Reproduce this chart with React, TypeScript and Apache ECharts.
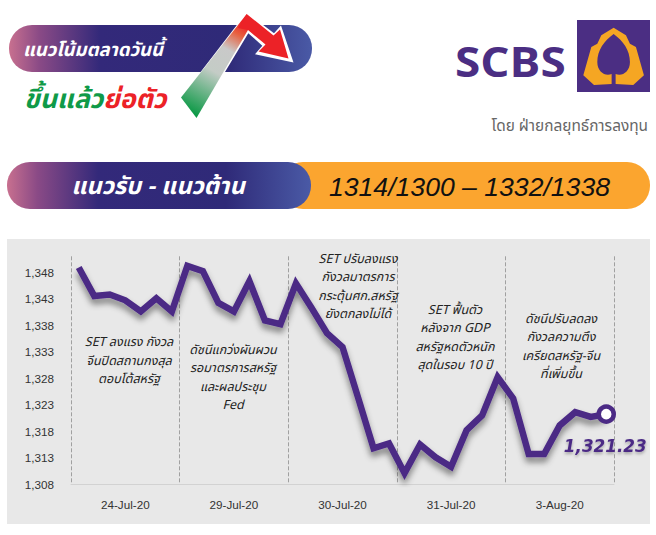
import React, { useEffect, useRef } from "react";
import * as echarts from "echarts";

const days = ["24-Jul-20", "29-Jul-20", "30-Jul-20", "31-Jul-20", "3-Aug-20"];
const pointsPerDay = 7;
const setIndex = [
  1348.9, 1343.5, 1343.8, 1342.7, 1340.6, 1343.1, 1340.6,
  1349.2, 1348.2, 1342.2, 1340.6, 1346.3, 1338.9, 1338.2,
  1345.9, 1341.3, 1336.5, 1333.9, 1324.4, 1314.8, 1315.7,
  1310.1, 1315.5, 1313.1, 1311.3, 1318.2, 1321.0, 1328.2,
  1324.2, 1313.7, 1313.7, 1319.1, 1321.6, 1320.7, 1321.23,
];
const yTicks = [1308, 1313, 1318, 1323, 1328, 1333, 1338, 1343, 1348];
const lastLabel = "1,321.23";

const notes = [
  { cx: 129, cy: 361, text: "SET ลงแรง กังวล\nจีนปิดสถานกงสุล\nตอบโต้สหรัฐ" },
  { cx: 233, cy: 378, text: "ดัชนีแกว่งผันผวน\nรอมาตรการสหรัฐ\nและผลประชุม\nFed" },
  { cx: 358, cy: 287, text: "SET ปรับลงแรง\nกังวลมาตรการ\nกระตุ้นศก.สหรัฐ\nยังตกลงไม่ได้" },
  { cx: 455, cy: 338, text: "SET ฟื้นตัว\nหลังจาก GDP\nสหรัฐหดตัวหนัก\nสุดในรอบ 10 ปี" },
  { cx: 561, cy: 347, text: "ดัชนีปรับลดลง\nกังวลความตึง\nเครียดสหรัฐ-จีน\nที่เพิ่มขึ้น" },
];

const PURPLE = "#4b2a85";
const thaiFont = "'Noto Sans Thai','Noto Sans','Liberation Sans',sans-serif";

echarts.graphic.registerShape(
  "scbsLeafOuter",
  echarts.graphic.extendPath(
    "M131 47 L168 70 L180 95 L198 105 L222 190 L190 219 L137 216 L125 216 L72 219 L40 190 L64 105 L82 95 L94 70 Z",
    {}
  ) as any
);
echarts.graphic.registerShape(
  "scbsLeafInner",
  echarts.graphic.extendPath(
    "M131 66 C103 86 82 115 82 150 C82 180 106 194 125 186 L125 216 L137 216 L137 186 C156 194 180 180 180 150 C180 115 159 86 131 66 Z",
    {}
  ) as any
);

function pillGradient() {
  return new echarts.graphic.LinearGradient(0, 0, 1, 0, [
    { offset: 0, color: "#c8708f" },
    { offset: 0.1, color: "#8a4a86" },
    { offset: 0.3, color: "#33297a" },
    { offset: 0.72, color: "#2f2a78" },
    { offset: 1, color: "#4a5aa6" },
  ]);
}

export default function App() {
  const ref = useRef<HTMLDivElement>(null);

  useEffect(() => {
    const chart = echarts.init(ref.current!, null, { renderer: "svg" });
    const categories = days.flatMap((d) => Array(pointsPerDay).fill(d));
    const last = setIndex.length - 1;

    const graphics: any[] = [
      { type: "rect", z: -5, silent: true, shape: { x: 7, y: 239, width: 643, height: 285 }, style: { fill: "#e8e8e8" } },

      { type: "rect", z: 1, shape: { x: 9, y: 25, width: 303, height: 47, r: 23 }, style: { fill: pillGradient() } },
      {
        type: "text", z: 3, x: 23, y: 50,
        style: { text: "แนวโน้มตลาดวันนี้", fill: "#fff", fontSize: 18.5, fontWeight: "bold", fontStyle: "italic", fontFamily: thaiFont, align: "left", verticalAlign: "middle" },
      },
      {
        type: "text", z: 3, x: 24, y: 100,
        style: {
          text: "{g|ขึ้นแล้ว}{r|ย่อตัว}",
          align: "left", verticalAlign: "middle",
          rich: {
            g: { fill: "#0f9a48", fontSize: 26.5, fontWeight: "bold", fontStyle: "italic", fontFamily: thaiFont },
            r: { fill: "#ec2227", fontSize: 26.5, fontWeight: "bold", fontStyle: "italic", fontFamily: thaiFont },
          },
        },
      },

      // trend arrow
      {
        type: "polygon", z: 4,
        shape: { points: [[180.7, 97.7], [196.7, 119], [248.3, 33.3], [262.3, 45.7], [255, 54.3], [293.5, 62.5], [281, 25.5], [274, 33.3], [246.7, 12.3]] },
        style: { fill: "#fff" },
      },
      {
        type: "polygon", z: 5,
        shape: { points: [[181, 97.5], [196.5, 118], [248, 30], [246.7, 14]] },
        style: {
          fill: new echarts.graphic.LinearGradient(238, 20, 188, 110, [
            { offset: 0, color: "#ec2227" },
            { offset: 0.12, color: "#e8603f" },
            { offset: 0.3, color: "#c9c9c9" },
            { offset: 0.55, color: "#c4ccc6" },
            { offset: 1, color: "#0f9a48" },
          ], true),
        },
      },
      {
        type: "polygon", z: 6,
        shape: { points: [[246.7, 14], [273.5, 35.5], [280, 29.5], [288.5, 58.5], [258.5, 51.5], [265.5, 44.5], [248, 30], [238, 28]] },
        style: { fill: "#ec2227" },
      },

      // logo
      {
        type: "text", z: 3, x: 455, y: 61, scaleX: 1.12,
        style: { text: "SCBS", fill: "#4b2e83", fontSize: 41, fontWeight: "bold", fontFamily: "'Open Sans'", align: "left", verticalAlign: "middle" },
      },
      { type: "rect", z: 3, shape: { x: 577, y: 20, width: 73, height: 72 }, style: { fill: "#4b2e83" } },
      { type: "scbsLeafOuter", z: 4, x: 570, y: 12, scaleX: 1 / 3, scaleY: 1 / 3, style: { fill: "#f5a623" } },
      { type: "scbsLeafInner", z: 5, x: 570, y: 12, scaleX: 1 / 3, scaleY: 1 / 3, style: { fill: "#4b2e83" } },
      {
        type: "text", z: 3, x: 648, y: 126,
        style: { text: "โดย ฝ่ายกลยุทธ์การลงทุน", fill: "#666", fontSize: 15.4, fontFamily: thaiFont, align: "right", verticalAlign: "middle" },
      },

      // support / resistance band
      { type: "rect", z: 1, shape: { x: 280, y: 162, width: 370, height: 47, r: 23 }, style: { fill: "#fba52f" } },
      { type: "rect", z: 2, shape: { x: 7, y: 162, width: 304, height: 47, r: 23 }, style: { fill: pillGradient() } },
      {
        type: "text", z: 3, x: 158, y: 187,
        style: { text: "แนวรับ - แนวต้าน", fill: "#fff", fontSize: 23.7, fontWeight: "bold", fontStyle: "italic", fontFamily: thaiFont, align: "center", verticalAlign: "middle" },
      },
      {
        type: "text", z: 3, x: 469.5, y: 187,
        style: { text: "1314/1300 – 1332/1338", fill: "#111", fontSize: 26.6, fontStyle: "italic", fontFamily: "'Liberation Sans'", align: "center", verticalAlign: "middle" },
      },

      ...notes.map((n) => ({
        type: "text", z: 10, x: n.cx, y: n.cy,
        style: { text: n.text, fill: "#222", fontSize: 12.5, fontStyle: "italic", lineHeight: 18.5, fontFamily: thaiFont, align: "center", verticalAlign: "middle" },
      })),
    ];

    chart.setOption({
      animation: false,
      backgroundColor: "#fff",
      graphic: { elements: graphics },
      grid: { left: 71, right: 42, top: 256.3, height: 228 },
      xAxis: {
        type: "category",
        data: categories,
        boundaryGap: true,
        axisLine: { lineStyle: { color: "#d2d2d2", width: 1 } },
        axisTick: { show: false },
        axisLabel: {
          interval: (i: number) => i % pointsPerDay === 3,
          color: "#333",
          fontSize: 11.7,
          fontFamily: "'Liberation Sans'",
          margin: 14,
        },
        splitLine: {
          show: true,
          interval: (i: number) => i % pointsPerDay === 0,
          lineStyle: { color: "#a0a0a0", type: "dashed", width: 1 },
        },
      },
      yAxis: {
        type: "value",
        min: 1308,
        max: 1351,
        axisLine: { show: false },
        axisTick: { show: false },
        splitLine: { show: false },
        axisLabel: {
          customValues: yTicks,
          formatter: (v: number) => v.toLocaleString("en-US"),
          color: "#333",
          fontSize: 11.7,
          fontFamily: "'Liberation Sans'",
          margin: 17,
        },
      },
      series: [
        {
          type: "line",
          symbol: "none",
          showSymbol: true,
          z: 5,
          lineStyle: { color: PURPLE, width: 6.5, join: "miter", shadowColor: "rgba(0,0,0,0.45)", shadowBlur: 6, shadowOffsetY: 5, shadowOffsetX: 0 },
          data: setIndex.map((v, i) =>
            i === last
              ? {
                  value: v,
                  symbol: "circle",
                  symbolSize: 15,
                  itemStyle: { color: "#fff", borderColor: PURPLE, borderWidth: 4.5 },
                  label: {
                    show: true,
                    formatter: lastLabel,
                    position: "bottom",
                    offset: [-1, 9],
                    color: PURPLE,
                    fontSize: 16.8,
                    fontWeight: "bold",
                    fontStyle: "italic",
                    fontFamily: "'DejaVu Sans'",
                    textShadowColor: "rgba(0,0,0,0.3)",
                    textShadowBlur: 3,
                    textShadowOffsetY: 2,
                  },
                }
              : v
          ),
        },
      ],
    });
    return () => chart.dispose();
  }, []);

  return <div ref={ref} style={{ position: "absolute", left: 0, top: 0, width: 656, height: 535 }} />;
}
